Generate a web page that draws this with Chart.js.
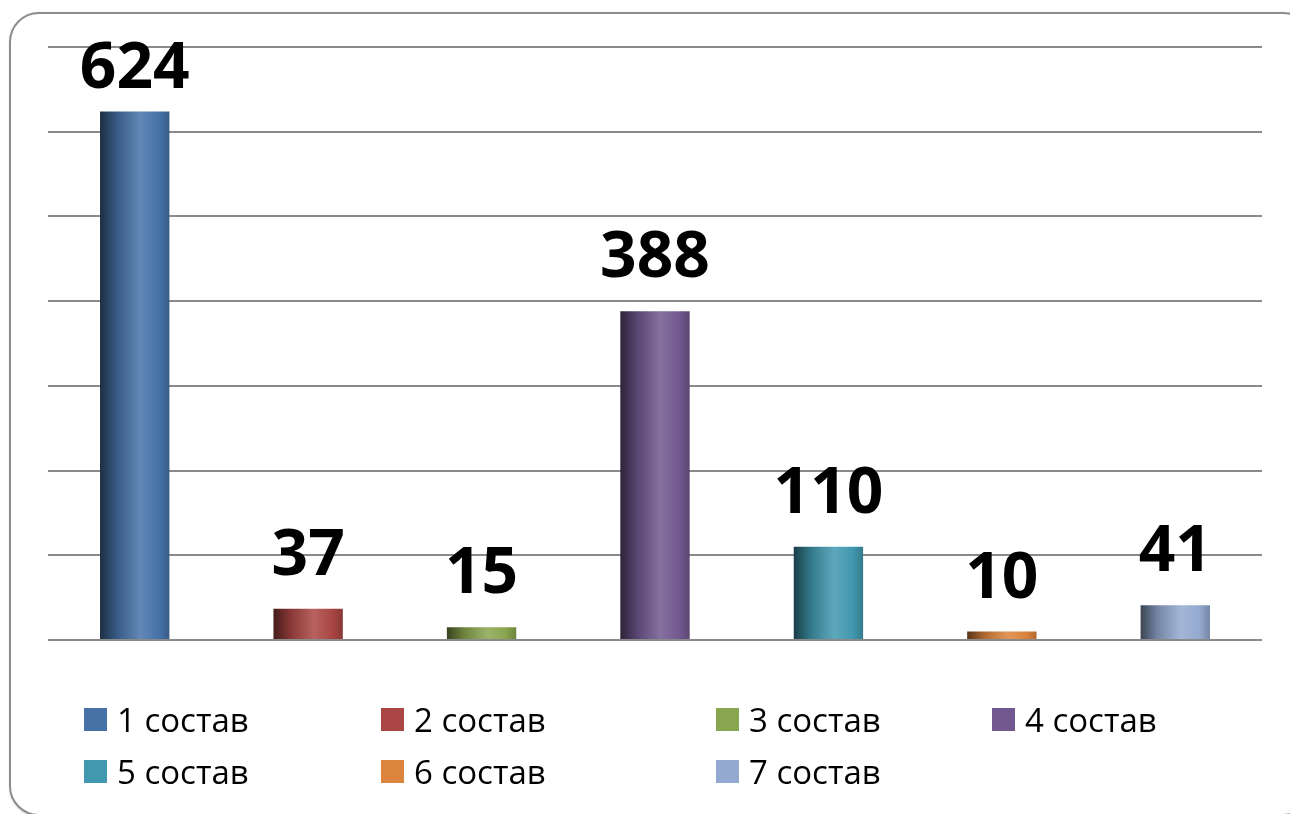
<!DOCTYPE html>
<html>
<head>
<meta charset="utf-8">
<script src="https://cdn.jsdelivr.net/npm/chart.js@4.4.1/dist/chart.umd.min.js"></script>
<style>
  html, body { margin: 0; padding: 0; background: #fff; overflow: hidden; }
  #frame {
    position: absolute; left: 9px; top: 12px; width: 1300px; height: 800px;
    border: 2px solid #8c8c8c; border-radius: 30px;
    box-shadow: 1px 1px 3px rgba(0, 0, 0, 0.25);
  }
  #wrap { position: absolute; left: 0; top: 0; width: 1290px; height: 814px; }
</style>
</head>
<body>
<div id="frame"></div>
<div id="wrap"><canvas id="chart" width="1290" height="814"></canvas></div>
<script>
// data
const categories = ["1 состав", "2 состав", "3 состав", "4 состав", "5 состав", "6 состав", "7 состав"];
const values = [624, 37, 15, 388, 110, 10, 41];
const seriesColors = ["#4672a8", "#aa4643", "#89a54e", "#71588f", "#4198af", "#db843d", "#93a9cf"];
const yTicks = { min: 0, max: 700, step: 100 };

// legend layout (two rows, four columns like the original)
const legendCols = [84, 381, 716, 992];
const legendRows = [708, 760];
const legendBox = 23;

function hexToRgb(hex) {
  const n = parseInt(hex.slice(1), 16);
  return [(n >> 16) & 255, (n >> 8) & 255, n & 255];
}

// t < 0 darkens, t > 0 lightens
function shade(hex, t) {
  const [r, g, b] = hexToRgb(hex);
  const f = c => Math.round(t < 0 ? c * (1 + t) : c + (255 - c) * t);
  return `rgb(${f(r)}, ${f(g)}, ${f(b)})`;
}

function barGradient(ctx) {
  const base = seriesColors[ctx.dataIndex];
  const chart = ctx.chart;
  const xs = chart.scales && chart.scales.x;
  if (!xs || ctx.type !== "data") return base;
  const cx = xs.getPixelForValue(ctx.dataIndex);
  const w = xs.width / categories.length * 0.4;
  if (!isFinite(cx) || !isFinite(w) || w <= 0) return base;
  const g = chart.ctx.createLinearGradient(cx - w / 2, 0, cx + w / 2, 0);
  g.addColorStop(0, shade(base, -0.6));
  g.addColorStop(0.25, shade(base, -0.2));
  g.addColorStop(0.58, shade(base, 0.15));
  g.addColorStop(0.85, shade(base, 0.0));
  g.addColorStop(1, shade(base, -0.2));
  return g;
}

const valueLabels = {
  id: "valueLabels",
  afterDatasetsDraw(chart) {
    const ctx = chart.ctx;
    const meta = chart.getDatasetMeta(0);
    ctx.save();
    ctx.font = "bold 64px 'Open Sans'";
    ctx.fillStyle = "#000";
    ctx.textAlign = "center";
    ctx.textBaseline = "alphabetic";
    meta.data.forEach((bar, i) => {
      const y = Math.max(bar.y - 34, 88);
      ctx.fillText(String(values[i]), bar.x, y);
    });
    ctx.restore();
  }
};

const gridLegend = {
  id: "gridLegend",
  afterDraw(chart) {
    const ctx = chart.ctx;
    ctx.save();
    ctx.font = "33px 'Open Sans'";
    ctx.textBaseline = "alphabetic";
    ctx.textAlign = "left";
    categories.forEach((name, i) => {
      const x = legendCols[i % 4];
      const y = legendRows[Math.floor(i / 4)];
      ctx.fillStyle = seriesColors[i];
      ctx.fillRect(x, y, legendBox, legendBox);
      ctx.fillStyle = "#000";
      ctx.fillText(name, x + 33, y + 24);
    });
    ctx.restore();
  }
};

new Chart(document.getElementById("chart"), {
  type: "bar",
  data: {
    labels: categories,
    datasets: [{
      data: values,
      backgroundColor: barGradient,
      borderWidth: 0,
      categoryPercentage: 1,
      barPercentage: 0.4
    }]
  },
  options: {
    responsive: false,
    animation: false,
    layout: { padding: { left: 48, right: 28, top: 47, bottom: 174 } },
    plugins: {
      legend: { display: false },
      tooltip: { enabled: false }
    },
    scales: {
      x: { display: false },
      y: {
        min: yTicks.min,
        max: yTicks.max,
        ticks: { display: false, stepSize: yTicks.step },
        border: { display: false },
        grid: { color: "#8a8a8a", lineWidth: 2, drawTicks: false }
      }
    }
  },
  plugins: [valueLabels, gridLegend]
});
</script>
</body>
</html>
